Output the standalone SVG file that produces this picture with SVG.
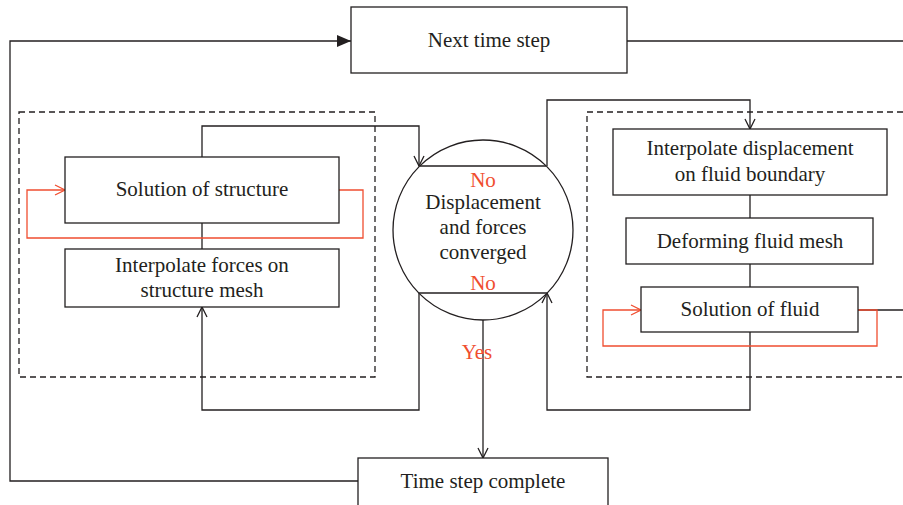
<svg xmlns="http://www.w3.org/2000/svg" width="903" height="505" viewBox="0 0 903 505">
<style>
.box{fill:#fff;stroke:#231f20;stroke-width:1.3}
.ln{fill:none;stroke:#231f20;stroke-width:1.3}
.red{fill:none;stroke:#f04e30;stroke-width:1.3}
.dash{fill:none;stroke:#231f20;stroke-width:1.3;stroke-dasharray:6 4}
.t{font-family:"Liberation Serif","Times New Roman",serif;font-size:21px;fill:#231f20;text-anchor:middle}
.tr{font-family:"Liberation Serif","Times New Roman",serif;font-size:21px;fill:#f04e30;text-anchor:middle}
</style>
<defs>
<marker id="ah" viewBox="0 0 12 12" refX="11" refY="6" markerWidth="12" markerHeight="12" markerUnits="userSpaceOnUse" orient="auto">
<path d="M1,1 L11,6 L1,11" fill="none" stroke="#231f20" stroke-width="1.3"/>
</marker>
<marker id="ahr" viewBox="0 0 12 12" refX="11" refY="6" markerWidth="12" markerHeight="12" markerUnits="userSpaceOnUse" orient="auto">
<path d="M1,1 L11,6 L1,11" fill="none" stroke="#f04e30" stroke-width="1.3"/>
</marker>
<marker id="af" viewBox="0 0 14 12" refX="14" refY="6" markerWidth="14" markerHeight="12" markerUnits="userSpaceOnUse" orient="auto">
<path d="M0,0 L14,6 L0,12 Z" fill="#231f20"/>
</marker>
</defs>

<g id="groups">
<rect class="dash" x="19" y="112" width="356" height="265"/>
<rect class="dash" x="587" y="112" width="330" height="265"/>
</g>

<g id="connectors">
<polyline class="ln" points="358,481 10,481 10,41 351,41" marker-end="url(#af)"/>
<line class="ln" x1="627" y1="41" x2="903" y2="41"/>
<polyline class="ln" points="202,157 202,126 419,126 419,166" marker-end="url(#ah)"/>
<line class="ln" x1="202" y1="223" x2="202" y2="249"/>
<polyline class="ln" points="419,293 419,410 202,410 202,307" marker-end="url(#ah)"/>
<polyline class="ln" points="547,166 547,100 750,100 750,129" marker-end="url(#ah)"/>
<line class="ln" x1="750" y1="195" x2="750" y2="218"/>
<line class="ln" x1="750" y1="264" x2="750" y2="287"/>
<polyline class="ln" points="750,332 750,410 547,410 547,293" marker-end="url(#ah)"/>
<line class="ln" x1="858" y1="310" x2="903" y2="310"/>
<line class="ln" x1="483" y1="320" x2="483" y2="458" marker-end="url(#ah)"/>
<polyline class="red" points="339,190 363,190 363,238 27,238 27,190 65,190" marker-end="url(#ahr)"/>
<polyline class="red" points="858,310 877,310 877,346 603,346 603,310 641,310" marker-end="url(#ahr)"/>
</g>

<g id="next-time-step">
<rect class="box" x="351" y="7" width="276" height="66"/>
<text class="t" x="489" y="47">Next time step</text>
</g>

<g id="solution-structure">
<rect class="box" x="65" y="157" width="274" height="66"/>
<text class="t" x="202" y="196">Solution of structure</text>
</g>

<g id="interpolate-forces">
<rect class="box" x="65" y="249" width="274" height="58"/>
<text class="t" x="202" y="272">Interpolate forces on</text>
<text class="t" x="202" y="297">structure mesh</text>
</g>

<g id="converged">
<circle cx="483" cy="230" r="90" fill="#fff" stroke="#231f20" stroke-width="1.3"/>
<line class="ln" x1="420" y1="166" x2="546" y2="166"/>
<line class="ln" x1="419" y1="293" x2="547" y2="293"/>
<text class="t" x="483" y="209">Displacement</text>
<text class="t" x="483" y="234">and forces</text>
<text class="t" x="483" y="259">converged</text>
<text class="tr" x="483" y="187">No</text>
<text class="tr" x="483" y="290">No</text>
<text class="tr" x="477" y="359">Yes</text>
</g>

<g id="interpolate-displacement">
<rect class="box" x="613" y="129" width="274" height="66"/>
<text class="t" x="750" y="155">Interpolate displacement</text>
<text class="t" x="750" y="181">on fluid boundary</text>
</g>

<g id="deforming-mesh">
<rect class="box" x="626" y="218" width="247" height="46"/>
<text class="t" x="750" y="248">Deforming fluid mesh</text>
</g>

<g id="solution-fluid">
<rect class="box" x="641" y="287" width="217" height="45"/>
<text class="t" x="750" y="316">Solution of fluid</text>
</g>

<g id="time-step-complete">
<rect class="box" x="358" y="458" width="250" height="50"/>
<text class="t" x="483" y="488">Time step complete</text>
</g>
</svg>
